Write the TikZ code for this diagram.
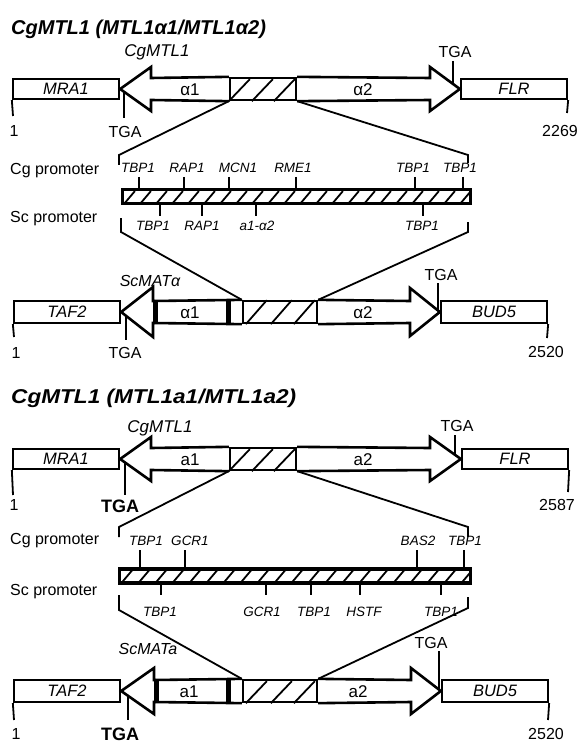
\documentclass[tikz,border=0pt]{standalone}
\usepackage{fontspec}
\setmainfont{Liberation Sans}
\usepackage{graphicx}
\usepackage{tikz}
\usetikzlibrary{positioning}

\begin{document}
\begin{tikzpicture}[x=1pt, y=-1pt,
  gene/.style={rectangle, draw, line width=2.3pt, inner sep=0pt, minimum width=106pt,
               minimum height=20pt, font=\fontsize{16.5}{16.5}\selectfont\itshape},
  hbox/.style={rectangle, draw, line width=2.3pt, inner sep=0pt,
               minimum width=66pt, minimum height=22pt},
  bar/.style={rectangle, draw, line width=2.3pt, inner sep=0pt, minimum height=13pt},
  lab/.style={inner sep=0pt, font=\fontsize{16}{16}\selectfont},
  glab/.style={inner sep=0pt, font=\fontsize{17}{17}\selectfont\itshape},
  site/.style={inner sep=0pt, font=\fontsize{13.5}{13.5}\selectfont\itshape},
  ttl/.style={anchor=west, inner sep=0pt, font=\fontsize{20}{20}\selectfont\bfseries\itshape},
  arrw/.style={line width=2.6pt, line join=miter},
  ln/.style={line width=1.8pt}]
  \useasboundingbox (0,0) rectangle (580,743);

  % ---------- alpha locus
  \node[ttl] (title1) at (11,29) {CgMTL1 (MTL1α1/MTL1α2)};
  \node[glab] (cg1) at (157,52) {CgMTL1};

  \node[gene] (mra1) at (66,89) {MRA1};
  \node[gene] (flr1) at (514,89) {FLR};
  \node[hbox] (hx1) at (263,89) {};
  \draw[arrw] (hx1.north west) -- (151,78) -- (151,67) -- (mra1.east) -- (151,111) -- (151,100) -- (hx1.south west);
  \draw[arrw] (hx1.north east) -- (430,78) -- (430,67) -- (flr1.west) -- (430,111) -- (430,100) -- (hx1.south east);
  \foreach \d in {0,23,45} \draw[ln] ([xshift=\d pt]hx1.south west) -- ++(21,-22);
  \node[lab, font=\fontsize{17}{17}\selectfont] (al1) at (190,90) {α1};
  \node[lab, font=\fontsize{17}{17}\selectfont] (al2) at (363,90) {α2};

  \node[lab] (tga1) at (455,52) {TGA};
  \draw[ln] (453,61) -- (453,84);
  \draw[ln] (124,92) -- (124,118);
  \node[lab] (tga2) at (125,132) {TGA};
  \draw[ln] (mra1.south west) -- (13,116);
  \draw[ln] (flr1.south east) -- (567,113);
  \node[lab] (one1) at (14,131) {1};
  \node[lab] (end1) at (560,131) {2269};

  % promoter
  \draw[ln] (hx1.south west) -- (119,155) -- (119,165);
  \draw[ln] (hx1.south east) -- (468,155) -- (468,163);
  \node[lab, anchor=west] (cgp1) at (10,171) {Cg promoter};
  \node[lab, anchor=west] (scp1) at (10,219) {Sc promoter};
  \node[bar, minimum width=347pt] (pr1) at (296.5,196.5) {};
  \begin{scope}
    \clip (pr1.south west) rectangle (pr1.north east);
    \foreach \x in {2,18,...,354} \draw[ln] ([xshift=\x pt]pr1.south west) -- ++(11,-13);
  \end{scope}
  \draw[line width=2.3pt] (pr1.south west) rectangle (pr1.north east);
  \foreach \t/\lx/\tx in {TBP1/138/139, RAP1/187/184, MCN1/238/229, RME1/293/296, TBP1/413/415, TBP1/460/463}{
    \node[site] (u\lx) at (\lx,168) {\t};
    \draw[ln] (\tx,177) -- (\tx,190);
  }
  \foreach \t/\lx/\tx in {TBP1/153/160, RAP1/202/202, a1-α2/257/256, TBP1/422/423}{
    \node[site] (d\lx) at (\lx,226) {\t};
    \draw[ln] (\tx,203) -- (\tx,216);
  }
  \node[hbox, minimum width=74pt] (hx2) at (280,312) {};
  \draw[ln] (121,218) -- (121,232) -- (hx2.north west);
  \draw[ln] (468,222) -- (468,232) -- (hx2.north east);

  % Sc MATalpha
  \node[glab, font=\fontsize{16}{16}\selectfont\itshape] (sc1) at (150,281) {ScMATα};
  \node[gene, minimum height=22pt] (taf1) at (67,312) {TAF2};
  \node[gene, minimum height=22pt] (bud1) at (494,312) {BUD5};
  \draw[arrw] (hx2.north west) -- (153,301) -- (153,287) -- (taf1.east) -- (153,337) -- (153,323) -- (hx2.south west);
  \draw[arrw] (hx2.north east) -- (410,301) -- (410,288) -- (bud1.west) -- (410,336) -- (410,323) -- (hx2.south east);
  \fill (153,301) rectangle (158,323);
  \fill (226,301) rectangle (231,323);
  \foreach \d in {4,29,52} \draw[ln] ([xshift=\d pt]hx2.south west) -- ++(21,-24);
  \node[lab, font=\fontsize{17}{17}\selectfont] (al3) at (190,313) {α1};
  \node[lab, font=\fontsize{17}{17}\selectfont] (al4) at (363,313) {α2};
  \node[lab] (tga3) at (441,275) {TGA};
  \draw[ln] (438,283) -- (438,310);
  \draw[ln] (126,316) -- (126,340);
  \node[lab] (tga4) at (125,353) {TGA};
  \draw[ln] (taf1.south west) -- (14,337);
  \draw[ln] (bud1.south east) -- (547,338);
  \node[lab] (one2) at (16,353) {1};
  \node[lab] (end2) at (546,352) {2520};

  % ---------- a locus
  \node[ttl] (title2) at (11,398) {\scalebox{1.13}[1]{CgMTL1 (MTL1a1/MTL1a2)}};
  \node[glab] (cg2) at (160,428) {CgMTL1};

  \node[gene] (mra2) at (66,459) {MRA1};
  \node[gene] (flr2) at (515,459) {FLR};
  \node[hbox] (hx3) at (263,459) {};
  \draw[arrw] (hx3.north west) -- (151,448) -- (151,437) -- (mra2.east) -- (151,481) -- (151,470) -- (hx3.south west);
  \draw[arrw] (hx3.north east) -- (430,448) -- (430,437) -- (flr2.west) -- (430,481) -- (430,470) -- (hx3.south east);
  \foreach \d in {0,23,45} \draw[ln] ([xshift=\d pt]hx3.south west) -- ++(21,-22);
  \node[lab, font=\fontsize{17}{17}\selectfont] (aa1) at (190,460) {a1};
  \node[lab, font=\fontsize{17}{17}\selectfont] (aa2) at (363,460) {a2};

  \node[lab] (tga5) at (457,426) {TGA};
  \draw[ln] (455,435) -- (455,455);
  \draw[ln] (125,462) -- (125,495);
  \node[lab, font=\fontsize{18}{18}\selectfont\bfseries] (tga6) at (120,506) {TGA};
  \draw[ln] (mra2.south west) -- (13,495);
  \draw[ln] (flr2.south east) -- (568,492);
  \node[lab] (one3) at (14,505) {1};
  \node[lab] (end3) at (557,505) {2587};

  % promoter
  \draw[ln] (hx3.south west) -- (119,527) -- (119,537);
  \draw[ln] (hx3.south east) -- (468,527) -- (468,537);
  \node[lab, anchor=west] (cgp2) at (10,541) {Cg promoter};
  \node[lab, anchor=west] (scp2) at (10,592) {Sc promoter};
  \node[bar, minimum width=350pt] (pr2) at (295,576) {};
  \begin{scope}
    \clip (pr2.south west) rectangle (pr2.north east);
    \foreach \x in {2,19,...,356} \draw[ln] ([xshift=\x pt]pr2.south west) -- ++(11,-13);
  \end{scope}
  \draw[line width=2.3pt] (pr2.south west) rectangle (pr2.north east);
  \foreach \t/\lx/\tx in {TBP1/146/140, GCR1/190/185, BAS2/418/417, TBP1/465/464}{
    \node[site] (v\lx) at (\lx,541) {\t};
    \draw[ln] (\tx,550) -- (\tx,570);
  }
  \foreach \t/\lx/\tx in {TBP1/160/161, GCR1/262/266, TBP1/314/311, HSTF/364/360, TBP1/441/441}{
    \node[site] (w\lx) at (\lx,612) {\t};
    \draw[ln] (\tx,582) -- (\tx,595);
  }
  \node[hbox, minimum width=74pt] (hx4) at (280,691) {};
  \draw[ln] (119,595) -- (119,610) -- (hx4.north west);
  \draw[ln] (468,597) -- (468,608) -- (hx4.north east);

  % Sc MATa
  \node[glab, font=\fontsize{16}{16}\selectfont\itshape] (sc2) at (148,649) {ScMATa};
  \node[gene, minimum height=22pt] (taf2) at (67,691) {TAF2};
  \node[gene, minimum height=22pt] (bud2) at (495,691) {BUD5};
  \draw[arrw] (hx4.north west) -- (154,680) -- (154,668) -- (taf2.east) -- (154,714) -- (154,702) -- (hx4.south west);
  \draw[arrw] (hx4.north east) -- (411,680) -- (411,668) -- (bud2.west) -- (411,714) -- (411,702) -- (hx4.south east);
  \fill (154,680) rectangle (159,702);
  \fill (226,680) rectangle (231,702);
  \foreach \d in {4,29,52} \draw[ln] ([xshift=\d pt]hx4.south west) -- ++(21,-22);
  \node[lab, font=\fontsize{17}{17}\selectfont] (aa3) at (189,692) {a1};
  \node[lab, font=\fontsize{17}{17}\selectfont] (aa4) at (358,692) {a2};
  \node[lab] (tga7) at (431,643) {TGA};
  \draw[ln] (439,651) -- (439,689);
  \draw[ln] (128,696) -- (128,720);
  \node[lab, font=\fontsize{18}{18}\selectfont\bfseries] (tga8) at (120,734) {TGA};
  \draw[ln] (taf2.south west) -- (14,720);
  \draw[ln] (bud2.south east) -- (548,720);
  \node[lab] (one4) at (16,734) {1};
  \node[lab] (end4) at (546,734) {2520};
\end{tikzpicture}
\end{document}
